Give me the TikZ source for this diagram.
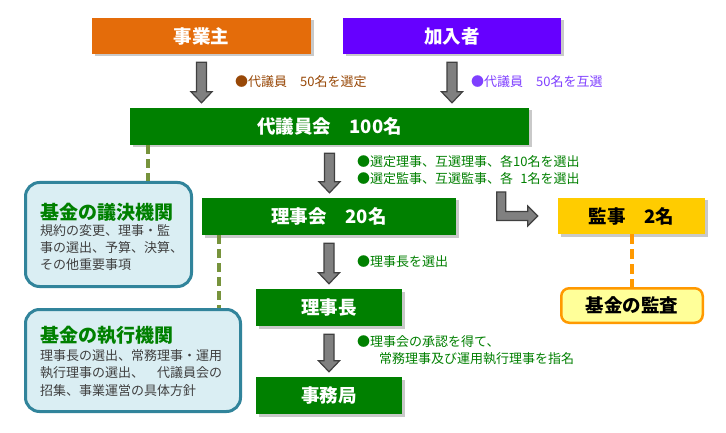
\documentclass[tikz,border=0pt]{standalone}
\usepackage{fontspec}
\setmainfont{Noto Sans CJK JP}
\usetikzlibrary{shadows,calc}
\definecolor{cOrange}{HTML}{E46C0A}
\definecolor{cPurple}{HTML}{6600FF}
\definecolor{cGreen}{HTML}{008000}
\definecolor{cYellow}{HTML}{FFCC00}
\definecolor{cArrow}{HTML}{808080}
\definecolor{cArrowB}{HTML}{404040}
\definecolor{cOlive}{HTML}{77933C}
\definecolor{cTeal}{HTML}{31849B}
\definecolor{cLBlue}{HTML}{DAEEF3}
\definecolor{cLY}{HTML}{FFFF99}
\definecolor{cOrB}{HTML}{FF9900}
\definecolor{cBrown}{HTML}{984807}
\definecolor{cViolet}{HTML}{7F3FFF}
\definecolor{cBody}{HTML}{404040}
\newcommand\blockdown[2]{%
  \draw[barrow] let \p1=(#1.south), \p2=(#2.north) in
   (\x1-5pt,\y1-8pt) -- (\x1+5pt,\y1-8pt) -- (\x1+5pt,\y2+16pt) -- (\x1+10.5pt,\y2+16pt)
   -- (\x1,\y2+5pt) -- (\x1-10.5pt,\y2+16pt) -- (\x1-5pt,\y2+16pt) -- cycle;}
\begin{document}
\begin{tikzpicture}[x=1pt,y=-1pt,
  mainbox/.style={rectangle, inner sep=0pt, text=white,
    font=\fontsize{18.5}{20}\selectfont\bfseries,
    drop shadow={shadow xshift=2.5pt, shadow yshift=-2.5pt, opacity=.35, fill=black!60}},
  leftbox/.style={rectangle, rounded corners=14pt, draw=cTeal, line width=3pt, fill=cLBlue},
  ltitle/.style={inner sep=0pt, anchor=base west, text=cGreen, font=\fontsize{19}{22}\selectfont\bfseries},
  lbody/.style={inner sep=0pt, anchor=base west, text=cBody, font=\fontsize{13}{17}\selectfont},
  note/.style={inner sep=0pt, anchor=base west, font=\fontsize{13}{17}\selectfont},
  barrow/.style={fill=cArrow, draw=cArrowB, line width=1.2pt, line join=miter},
  oline/.style={draw=cOlive, line width=3.5pt, dash pattern=on 9pt off 5pt},
  orline/.style={draw=cOrB, line width=4pt, dash pattern=on 10pt off 5pt}]
\fill[white] (0,0) rectangle (726,433);
\useasboundingbox (0,0) rectangle (726,433);

% top boxes
\node[mainbox, fill=cOrange, minimum width=219pt, minimum height=36pt] (jigyo) at (201.5,36) {事業主};
\node[mainbox, fill=cPurple, minimum width=218pt, minimum height=36pt] (kanyu) at (452,36) {加入者};
\node[mainbox, fill=cGreen, minimum width=399pt, minimum height=37pt] (daigi) at (329.5,126.5) {代議員会　100名};
\node[mainbox, fill=cGreen, minimum width=254pt, minimum height=37pt] (rijikai) at (329,216.5) {理事会　20名};
\node[mainbox, fill=cYellow, text=black, minimum width=147pt, minimum height=36pt] (kanji) at (631.5,216) {監事　2名};
\node[mainbox, fill=cGreen, minimum width=146pt, minimum height=37pt] (rijicho) at (329,307.5) {理事長};
\node[mainbox, fill=cGreen, minimum width=146pt, minimum height=37pt] (jimu) at (329,395.5) {事務局};
\node[rectangle, rounded corners=8pt, draw=cOrB, line width=2.5pt, fill=cLY,
      minimum width=141.5pt, minimum height=34.5pt, inner sep=0pt,
      font=\fontsize{18.5}{20}\selectfont\bfseries] (kansa) at (632,305.5) {基金の監査};

% left boxes
\node[leftbox, minimum width=166pt, minimum height=104pt] (giketsu) at (108.5,234.5) {};
\node[ltitle] (giketsuT) at (40,219.2) {基金の議決機関};
\node[lbody] (giketsuB1) at (40,235) {規約の変更、理事・監};
\node[lbody] (giketsuB2) at (40,252) {事の選出、予算、決算、};
\node[lbody] (giketsuB3) at (40,269) {その他重要事項};

\node[leftbox, minimum width=215pt, minimum height=102pt] (shikko) at (133,360.5) {};
\node[ltitle] (shikkoT) at (40,342.2) {基金の執行機関};
\node[lbody] (shikkoB1) at (40,360) {理事長の選出、常務理事・運用};
\node[lbody] (shikkoB2) at (40,377.5) {執行理事の選出、　代議員会の};
\node[lbody] (shikkoB3) at (40,395) {招集、事業運営の具体方針};

% dashed connectors
\draw[oline] ([xshift=18pt]daigi.south west) coordinate (g1) -- (g1 |- giketsu.north);
\draw[oline] ([xshift=17pt]rijikai.south west) coordinate (g2) -- (g2 |- shikko.north);
\draw[orline] (kanji.south) -- (kanji.south |- kansa.north);

% block arrows
\blockdown{jigyo}{daigi}
\blockdown{kanyu}{daigi}
\blockdown{daigi}{rijikai}
\blockdown{rijikai}{rijicho}
\blockdown{rijicho}{jimu}
\draw[barrow] let \p1=(kanji.west) in
  (\x1-61pt,\y1+24pt) -- (\x1-52pt,\y1+24pt) -- (\x1-52pt,\y1+4.5pt) -- (\x1-30pt,\y1+4.5pt)
  -- (\x1-30pt,\y1+10pt) -- (\x1-20pt,\y1) -- (\x1-30pt,\y1-10pt) -- (\x1-30pt,\y1-4.5pt)
  -- (\x1-61pt,\y1-4.5pt) -- cycle;

% notes
\node[note, text=cBrown] (n1) at (235,86.9) {●代議員　50名を選定};
\node[note, text=cViolet] (n2) at (471,86.9) {●代議員　50名を互選};
\node[note, text=cGreen] (n3) at (357,166.9) {●選定理事、互選理事、各10名を選出};
\node[note, text=cGreen] (n4) at (357,183.9) {●選定監事、互選監事、各\phantom{1}1名を選出};
\node[note, text=cGreen] (n5) at (357,266.9) {●理事長を選出};
\node[note, text=cGreen] (n6) at (357,346.9) {●理事会の承認を得て、};
\node[note, text=cGreen] (n7) at (379,363.9) {常務理事及び運用執行理事を指名};
\end{tikzpicture}
\end{document}
